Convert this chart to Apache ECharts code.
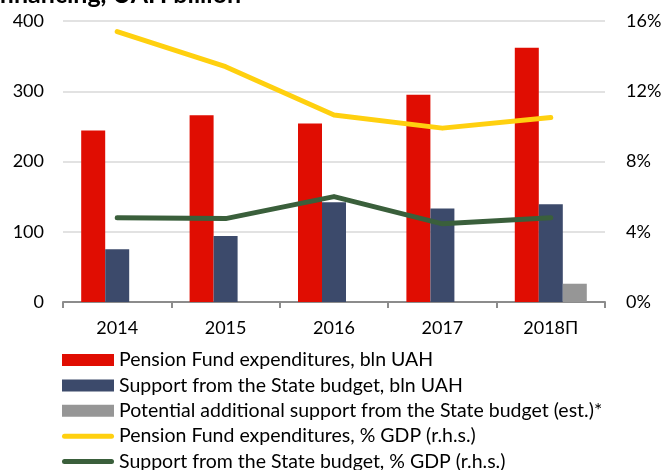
<!DOCTYPE html>
<html lang="en">
<head>
  <meta charset="UTF-8" />
  <title>Pension Fund financing</title>
  <script src="https://cdnjs.cloudflare.com/ajax/libs/echarts/6.0.0/echarts.min.js"></script>
  <style>
    body { margin: 0; background: #fff; }
    #chart { width: 665px; height: 470px; }
  </style>
</head>
<body>
  <div id="chart"></div>
  <script>
    const years = ["2014", "2015", "2016", "2017", "2018П"];
    const pfExpenditures = [244, 266, 254, 295, 362];
    const stateSupport = [75, 94, 142, 133, 139];
    const extraSupport = [null, null, null, null, 26];
    const pfExpShareGdp = [15.4, 13.4, 10.65, 9.9, 10.5];
    const supportShareGdp = [4.8, 4.75, 6.0, 4.45, 4.8];

    const names = [
      "Pension Fund expenditures, bln UAH",
      "Support from the State budget, bln UAH",
      "Potential additional support from the State budget (est.)*",
      "Pension Fund expenditures, % GDP (r.h.s.)",
      "Support from the State budget, % GDP (r.h.s.)"
    ];

    const font = "Lato, 'Open Sans', sans-serif";
    const lineIcon = "path://M2.5,0 h47 a2.5,2.5 0 0 1 0,5 h-47 a2.5,2.5 0 0 1 0,-5z";

    const chart = echarts.init(document.getElementById("chart"));

    chart.setOption({
      animation: false,
      textStyle: { fontFamily: font },
      graphic: [
        {
          type: "text",
          left: -1,
          top: -18,
          style: {
            text: "financing, UAH billion",
            font: "bold 25px " + font,
            fill: "#000"
          }
        }
      ],
      grid: { left: 63, right: 60, top: 21, bottom: 168 },
      legend: {
        orient: "vertical",
        left: 62,
        top: 350,
        height: 160,
        padding: 0,
        itemWidth: 52,
        itemHeight: 12,
        itemGap: 5.4,
        textStyle: { fontSize: 19.5, color: "#000", lineHeight: 18, padding: [0, 0, 0, 0] },
        data: [
          { name: names[0], icon: "rect" },
          { name: names[1], icon: "rect" },
          { name: names[2], icon: "rect" },
          { name: names[3], icon: lineIcon },
          { name: names[4], icon: lineIcon }
        ]
      },
      xAxis: {
        type: "category",
        data: years,
        axisLine: { lineStyle: { color: "#8c8c8c", width: 2 } },
        axisTick: { show: true, length: 6, lineStyle: { color: "#8c8c8c", width: 2 } },
        axisLabel: { fontSize: 18, color: "#000", margin: 17 }
      },
      yAxis: [
        {
          type: "value",
          min: 0,
          max: 400,
          interval: 100,
          axisLabel: { fontSize: 18, color: "#000", margin: 19 },
          splitLine: { lineStyle: { color: "#d9d9d9", width: 1.5 } }
        },
        {
          type: "value",
          min: 0,
          max: 16,
          interval: 4,
          axisLabel: { fontSize: 18, color: "#000", margin: 21, formatter: "{value}%" },
          splitLine: { show: false }
        }
      ],
      series: [
        {
          name: names[0],
          type: "bar",
          data: pfExpenditures,
          barWidth: 24,
          barGap: "0%",
          itemStyle: { color: "#e00d02" }
        },
        {
          name: names[1],
          type: "bar",
          data: stateSupport,
          barWidth: 24,
          barGap: "0%",
          itemStyle: { color: "#3c4a6b" }
        },
        {
          name: names[2],
          type: "bar",
          data: extraSupport,
          barWidth: 24,
          barGap: "0%",
          itemStyle: { color: "#969696" }
        },
        {
          name: names[3],
          type: "line",
          yAxisIndex: 1,
          data: pfExpShareGdp,
          symbol: "none",
          itemStyle: { color: "#ffd00f" },
          lineStyle: { color: "#ffd00f", width: 5, cap: "round", join: "round" }
        },
        {
          name: names[4],
          type: "line",
          yAxisIndex: 1,
          data: supportShareGdp,
          symbol: "none",
          itemStyle: { color: "#3a5f3b" },
          lineStyle: { color: "#3a5f3b", width: 5, cap: "round", join: "round" }
        }
      ]
    });
  </script>
</body>
</html>
